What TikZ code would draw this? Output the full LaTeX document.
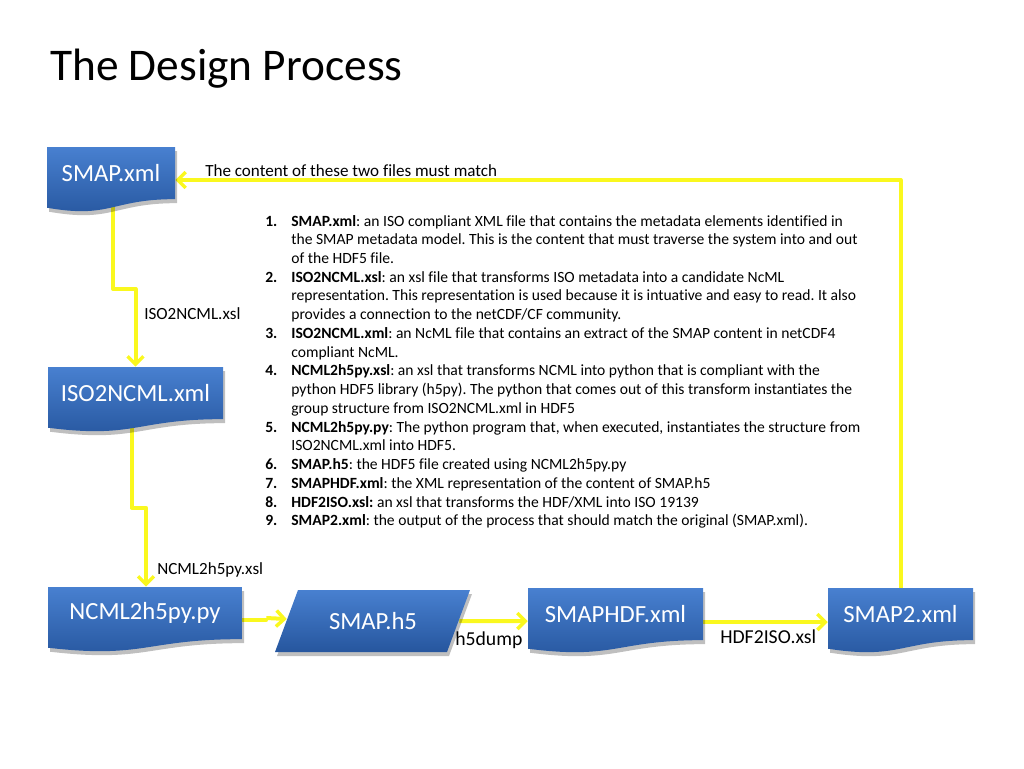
\documentclass[tikz,border=0pt]{standalone}
\usepackage{fontspec}
\setmainfont[Ligatures=NoCommon]{Carlito}
\usetikzlibrary{arrows.meta,calc}
\pgfdeclarelayer{conn}
\pgfdeclarelayer{boxes}
\pgfsetlayers{conn,boxes,main}
\frenchspacing

\definecolor{boxtop}{RGB}{72,128,208}
\definecolor{boxbot}{RGB}{38,86,158}
\definecolor{arrowyellow}{RGB}{250,248,30}

\tikzset{
  conn/.style={draw=arrowyellow, line width=3pt, line join=round,
    -{Straight Barb[length=6pt,width=12pt,line width=2.6pt]}},
  plainconn/.style={draw=arrowyellow, line width=3pt, line join=round},
  boxtext/.style={inner sep=0pt, text=white, font=\fontsize{18.5}{22}\selectfont},
  lbl/.style={inner sep=0pt, anchor=base west, font=\fontsize{12.8}{15}\selectfont},
  biglbl/.style={inner sep=0pt, anchor=base west, font=\fontsize{14.8}{17}\selectfont},
  shadowc/.style={fill=black, opacity=0.25}
}

\newcommand\docpath[4]{(#1,#2) -- ({#1+#3},#2) -- ({#1+#3},{#2+0.802*#4}) .. controls ({#1+0.5*#3},{#2+0.802*#4}) and ({#1+0.5*#3},{#2+1.107*#4}) .. (#1,{#2+0.934*#4}) -- cycle}

\newcommand\docbox[6]{%
  \begin{pgfonlayer}{boxes}
    \fill[shadowc] \docpath{#2+2}{#3+4}{#4}{#5};
    \shade[top color=boxtop, bottom color=boxbot] \docpath{#2}{#3}{#4}{#5};
  \end{pgfonlayer}
  \node[boxtext, minimum width={#4*0.75pt}, minimum height={0.8*#5*0.75pt}] (#1) at ({#2+#4/2},{#3+0.4*#5}) {#6};
}

\begin{document}
\begin{tikzpicture}[x=0.75pt, y=-0.75pt]
\useasboundingbox (0,0) rectangle (1024,768);

% title
\node[inner sep=0pt, anchor=base west, font=\fontsize{34}{40}\selectfont] (title) at (50,80) {The Design Process};

% document boxes
\docbox{smap}{47}{147}{128}{65}{SMAP.xml}
\docbox{iso}{48}{367}{175}{65}{ISO2NCML.xml}
\docbox{ncpy}{48}{587}{194}{65}{NCML2h5py.py}
\docbox{hdf}{528}{588}{175}{65}{SMAPHDF.xml}
\docbox{smaptwo}{828}{588}{145}{65}{SMAP2.xml}

% parallelogram SMAP.h5
\begin{pgfonlayer}{boxes}
  \fill[shadowc] (300,594) -- (472,594) -- (449,656) -- (277,656) -- cycle;
  \shade[top color=boxtop, bottom color=boxbot] (298,590) -- (470,590) -- (447,652) -- (275,652) -- cycle;
\end{pgfonlayer}
\node[boxtext, minimum width={172*0.75pt}, minimum height={62*0.75pt}] (h5) at (373,621) {SMAP.h5};

% connectors
\begin{pgfonlayer}{conn}
  \draw[conn] ($(smap.south)+(2,0)$) |- ($(iso.north)+(0,-78)$) -- (iso.north);
  \draw[conn] ($(iso.south)+(-4,0)$) |- ($(ncpy.north)+(1,-79)$) -- ($(ncpy.north)+(1,0)$);
  \draw[plainconn] ($(ncpy.east)+(0,7)$) -- ($(ncpy.east)+(24,7)$) -- ($(ncpy.east)+(24,5)$);
  \draw[conn] ($(ncpy.east)+(24,5)$) -- ($(h5.west)+(0,-2)$);
  \draw[conn] (h5.east) -- ($(hdf.west)+(0,7)$);
  \draw[conn] ($(hdf.east)+(0,8)$) -- ($(smaptwo.west)+(0,8)$);
  \draw[conn] (smaptwo.north) |- ($(smap.east)+(0,7)$);
\end{pgfonlayer}

% labels
\node[lbl] (lmatch) at (205,176) {The content of these two files must match};
\node[lbl] (lisoxsl) at (144,319) {ISO2NCML.xsl};
\node[lbl] (lncxsl) at (157,574) {NCML2h5py.xsl};
\node[biglbl] (ldump) at (455,645) {h5dump};
\node[biglbl] (lhdf) at (720,643) {HDF2ISO.xsl};

% numbered list
\node[inner sep=0pt, anchor=base west, font=\fontsize{11.7}{14.06}\selectfont] (list) at (265,226) {%
\begin{tabular}[t]{@{}r@{\hspace{10.5pt}}l@{}}
\textbf{1.} & \textbf{SMAP.xml}: an ISO compliant XML file that contains the metadata elements identified in\\
 & the SMAP metadata model. This is the content that must traverse the system into and out\\
 & of the HDF5 file.\\
\textbf{2.} & \textbf{ISO2NCML.xsl}: an xsl file that transforms ISO metadata into a candidate NcML\\
 & representation. This representation is used because it is intuative and easy to read. It also\\
 & provides a connection to the netCDF/CF community.\\
\textbf{3.} & \textbf{ISO2NCML.xml}: an NcML file that contains an extract of the SMAP content in netCDF4\\
 & compliant NcML.\\
\textbf{4.} & \textbf{NCML2h5py.xsl}: an xsl that transforms NCML into python that is compliant with the\\
 & python HDF5 library (h5py). The python that comes out of this transform instantiates the\\
 & group structure from ISO2NCML.xml in HDF5\\
\textbf{5.} & \textbf{NCML2h5py.py}: The python program that, when executed, instantiates the structure from\\
 & ISO2NCML.xml into HDF5.\\
\textbf{6.} & \textbf{SMAP.h5}: the HDF5 file created using NCML2h5py.py\\
\textbf{7.} & \textbf{SMAPHDF.xml}: the XML representation of the content of SMAP.h5\\
\textbf{8.} & \textbf{HDF2ISO.xsl:} an xsl that transforms the HDF/XML into ISO 19139\\
\textbf{9.} & \textbf{SMAP2.xml}: the output of the process that should match the original (SMAP.xml).
\end{tabular}};
\end{tikzpicture}
\end{document}
